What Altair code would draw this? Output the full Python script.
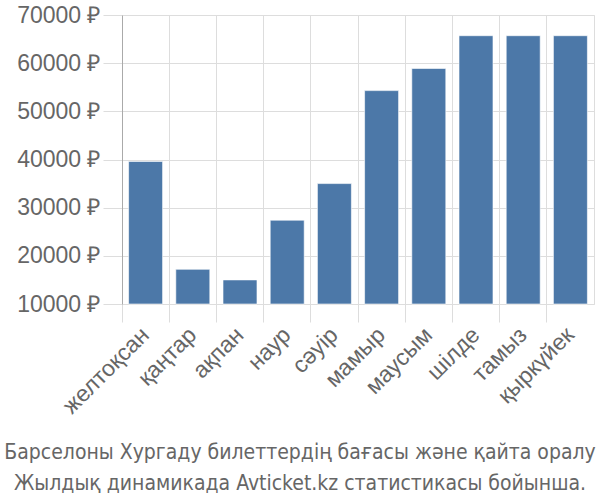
import altair as alt
import pandas as pd

months = ["желтоқсан", "қаңтар", "ақпан", "наур", "сәуір", "мамыр",
          "маусым", "шілде", "тамыз", "қыркүйек"]
prices = [39600, 17200, 15000, 27400, 35000, 54300, 58900, 65700, 65700, 65700]
y_ticks = [10000, 20000, 30000, 40000, 50000, 60000, 70000]
title_lines = ["Барселоны Хургаду билеттердің бағасы және қайта оралу",
               "Жылдық динамикада Avticket.kz статистикасы бойынша."]

df = pd.DataFrame({"month": months, "price": prices})

chart = alt.Chart(df, title=alt.TitleParams(
    text=title_lines, orient="bottom", anchor="middle", dx=-58, offset=24,
    font="DejaVu Sans Condensed", fontSize=21, fontWeight="normal",
    color="#666666", lineHeight=31,
)).mark_bar(
    width=alt.RelativeBandSize(0.72), color="#4c78a8",
    stroke="#ffffff", strokeOpacity=0.6, strokeWidth=1,
).encode(
    x=alt.X("month:N", sort=months, title=None,
            scale=alt.Scale(paddingInner=0, paddingOuter=0),
            axis=alt.Axis(bandPosition=0, grid=True, gridColor="#dddddd",
                          tickColor="#dddddd", tickSize=18, domain=False,
                          labelAngle=-45, labelAlign="right", labelBaseline="middle",
                          labelFont="Liberation Sans", labelFontSize=23,
                          labelColor="#666666", labelPadding=9)),
    y=alt.Y("price:Q", title=None,
            scale=alt.Scale(domain=[10000, 70000], zero=False, nice=False, clamp=True),
            axis=alt.Axis(values=y_ticks, labelExpr="format(datum.value, 'd') + ' ₽'",
                          grid=True, gridColor="#dddddd", tickColor="#dddddd",
                          tickSize=19, domainColor="#aaaaaa",
                          labelFont="Liberation Sans", labelFontSize=23,
                          labelColor="#666666", labelPadding=3)),
).properties(
    width=472, height=289,
    autosize=alt.AutoSizeParams(type="none"),
    padding={"left": 122, "top": 15, "right": 6, "bottom": 196},
).configure_view(stroke="#dddddd")

chart.save("out.html", embed_options={"renderer": "svg", "actions": False})
